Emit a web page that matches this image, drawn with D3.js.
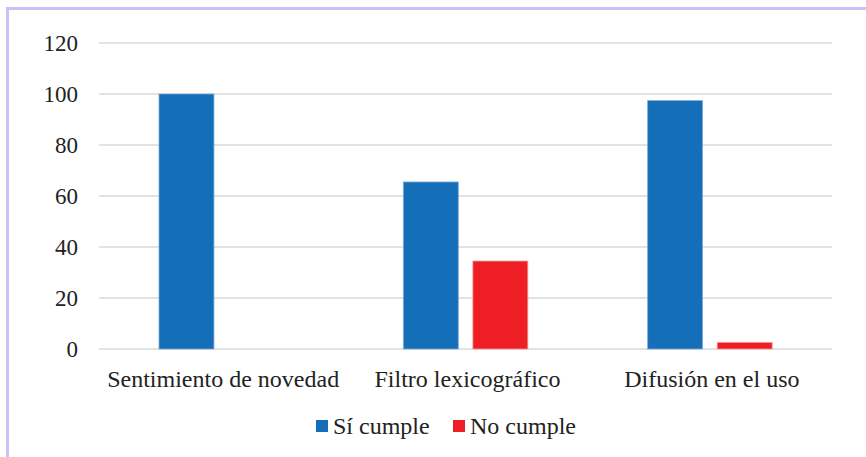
<!DOCTYPE html>
<html>
<head>
<meta charset="utf-8">
<script src="https://cdn.jsdelivr.net/npm/d3@7"></script>
</head>
<body style="margin:0">
<svg id="chart" width="866" height="457" font-family="Times New Roman" style="display:block"></svg>
<script>
// Criteria evaluated and the share (%) of items meeting each one
const categories = ["Sentimiento de novedad", "Filtro lexicográfico", "Difusión en el uso"];
const siCumple = [100, 65.5, 97.4];
const noCumple = [0, 34.5, 2.6];
const seriesNames = ["Sí cumple", "No cumple"];
const seriesColors = ["#156EB8", "#EE1F24"];
const yTicks = [0, 20, 40, 60, 80, 100, 120];

const FONT = "Times New Roman";
const TEXT_COLOR = "#222222";

const svg = d3.select("#chart");
const W = 866, H = 457;
const margin = { left: 99, right: 34, top: 43, bottom: 108 };

// Frame border (top and left edges visible)
svg.append("line").attr("x1", 7.5).attr("x2", W).attr("y1", 8.5).attr("y2", 8.5)
  .attr("stroke", "#c9c1f7").attr("stroke-width", 3);
svg.append("line").attr("x1", 7.5).attr("x2", 7.5).attr("y1", 7).attr("y2", H)
  .attr("stroke", "#c9c1f7").attr("stroke-width", 3);

const x0 = d3.scaleBand().domain(categories)
  .range([margin.left, W - margin.right]).paddingInner(0).paddingOuter(0);
const x1 = d3.scaleBand().domain(seriesNames)
  .range([60, 184.5]).paddingInner(0.21).paddingOuter(0);
const y = d3.scaleLinear().domain([0, 120]).range([H - margin.bottom, margin.top]);

// Gridlines
svg.append("g").selectAll("line").data(yTicks).join("line")
  .attr("x1", margin.left).attr("x2", W - margin.right)
  .attr("y1", d => y(d)).attr("y2", d => y(d))
  .attr("stroke", "#d9d9d9").attr("stroke-width", 1.5);

// Y axis labels (plain text elements)
svg.append("g").selectAll("text").data(yTicks).join("text")
  .attr("x", 78).attr("y", d => y(d)).attr("dy", "0.35em")
  .attr("text-anchor", "end")
  .style("font-family", `"${FONT}"`).style("font-size", "23px")
  .attr("fill", TEXT_COLOR)
  .text(d => d);

// Bars
const rows = categories.map((c, i) => ({ cat: c, vals: [siCumple[i], noCumple[i]] }));
const g = svg.append("g").selectAll("g").data(rows).join("g")
  .attr("transform", d => `translate(${x0(d.cat)},0)`);
g.selectAll("rect").data(d => d.vals.map((v, j) => ({ v, s: seriesNames[j], j })))
  .join("rect")
  .filter(d => d.v > 0)
  .attr("x", d => x1(d.s))
  .attr("width", x1.bandwidth())
  .attr("y", d => y(d.v))
  .attr("height", d => y(0) - y(d.v))
  .attr("fill", d => seriesColors[d.j])
  .attr("stroke", d => d.j === 0 ? "#7fa9d8" : "#f59a9c")
  .attr("stroke-width", 0.8);

// Category labels
svg.append("g").selectAll("text").data(categories).join("text")
  .attr("x", d => x0(d) + x0.bandwidth() / 2 + 2).attr("y", y(0) + 38)
  .attr("text-anchor", "middle")
  .style("font-family", `"${FONT}"`).style("font-size", "24px")
  .attr("fill", TEXT_COLOR)
  .text(d => d);

// Legend
const legendItems = [{ x: 316, name: seriesNames[0], c: seriesColors[0] },
                     { x: 453, name: seriesNames[1], c: seriesColors[1] }];
const lg = svg.append("g").selectAll("g").data(legendItems).join("g")
  .attr("transform", d => `translate(${d.x},0)`);
lg.append("rect").attr("x", 0).attr("y", 420).attr("width", 12).attr("height", 12)
  .attr("fill", d => d.c);
lg.append("text").attr("x", 17).attr("y", 434).text(d => d.name)
  .style("font-family", `"${FONT}"`).style("font-size", "24px")
  .attr("fill", TEXT_COLOR);
</script>
</body>
</html>
